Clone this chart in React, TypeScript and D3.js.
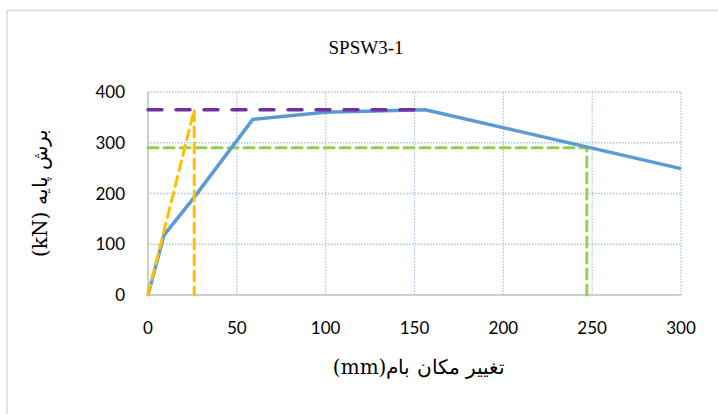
import React, { useEffect, useRef } from 'react';
import * as d3 from 'd3';

// pushover curve and the bilinear idealisation
const curveX = [0, 9, 25, 59, 100, 156, 300];
const curveY = [0, 118, 188, 346, 360, 365, 249];

const yieldLineX = [0, 26, 26];
const yieldLineY = [0, 365, 0];

const maxShearX = [0, 156];
const maxShearY = [365, 365];

const ultimateX = [0, 247, 247];
const ultimateY = [290, 290, 0];

const xTicks = [0, 50, 100, 150, 200, 250, 300];
const yTicks = [0, 100, 200, 300, 400];

const W = 718;
const H = 414;

export default function App() {
  const svgRef = useRef<SVGSVGElement>(null);

  useEffect(() => {
    const svg = d3.select(svgRef.current);
    svg.selectAll('*').remove();

    const x = d3.scaleLinear().domain([0, 300]).range([148, 681]);
    const y = d3.scaleLinear().domain([0, 400]).range([295, 92]);

    svg.append('rect')
      .attr('x', 0).attr('y', 0).attr('width', W).attr('height', H)
      .attr('fill', '#fff');
    // chart frame (cut off on right and bottom)
    svg.append('rect')
      .attr('x', 7).attr('y', 10.5).attr('width', W + 20).attr('height', H + 20)
      .attr('fill', 'none').attr('stroke', '#d9d9d9').attr('stroke-width', 1.5);

    const grid = svg.append('g');
    yTicks.forEach(t => {
      if (t === 0) return;
      grid.append('line')
        .attr('x1', x(0)).attr('x2', x(300)).attr('y1', y(t)).attr('y2', y(t))
        .attr('stroke', '#a9c8ea').attr('stroke-width', 1.3).attr('stroke-dasharray', '1.5 1.5');
    });
    xTicks.forEach(t => {
      if (t === 0) return;
      grid.append('line')
        .attr('x1', x(t)).attr('x2', x(t)).attr('y1', y(0)).attr('y2', y(400))
        .attr('stroke', '#a9c8ea').attr('stroke-width', 1.3).attr('stroke-dasharray', '1.5 1.5');
    });

    // axes lines
    svg.append('line')
      .attr('x1', x(0)).attr('x2', x(0)).attr('y1', y(0)).attr('y2', y(400))
      .attr('stroke', '#bfbfbf').attr('stroke-width', 1.5);
    svg.append('line')
      .attr('x1', x(0)).attr('x2', x(300)).attr('y1', y(0)).attr('y2', y(0))
      .attr('stroke', '#bfbfbf').attr('stroke-width', 1.5);

    const line = d3.line<[number, number]>().x(d => x(d[0])).y(d => y(d[1]));
    const pts = (xs: number[], ys: number[]) => xs.map((v, i) => [v, ys[i]] as [number, number]);

    svg.append('path')
      .attr('d', line(pts(ultimateX, ultimateY)))
      .attr('fill', 'none').attr('stroke', '#92d050').attr('stroke-width', 3)
      .attr('stroke-dasharray', '10 6').attr('stroke-linecap', 'round');

    svg.append('path')
      .attr('d', line(pts(curveX, curveY)))
      .attr('fill', 'none').attr('stroke', '#5b9bd5').attr('stroke-width', 3.5)
      .attr('stroke-linejoin', 'round');

    svg.append('path')
      .attr('d', line(pts(yieldLineX, yieldLineY)))
      .attr('fill', 'none').attr('stroke', '#ffc000').attr('stroke-width', 3)
      .attr('stroke-dasharray', '10 6').attr('stroke-linecap', 'round');

    svg.append('path')
      .attr('d', line(pts(maxShearX, maxShearY)))
      .attr('fill', 'none').attr('stroke', '#7030a0').attr('stroke-width', 3.5)
      .attr('stroke-dasharray', '14 14').attr('stroke-linecap', 'round');

    const tickFont = 'Lato, "Open Sans", sans-serif';
    svg.append('g').selectAll('text').data(xTicks).enter().append('text')
      .attr('x', d => x(d)).attr('y', 334)
      .attr('text-anchor', 'middle')
      .attr('font-family', tickFont).attr('font-size', 17).attr('fill', '#000')
      .text(d => d);
    svg.append('g').selectAll('text').data(yTicks).enter().append('text')
      .attr('x', 125).attr('y', d => y(d) + 6)
      .attr('text-anchor', 'end')
      .attr('font-family', tickFont).attr('font-size', 17).attr('fill', '#000')
      .text(d => d);

    const serif = '"DejaVu Serif", "Liberation Serif", serif';
    svg.append('text')
      .attr('x', 366).attr('y', 54)
      .attr('text-anchor', 'middle')
      .attr('font-family', '"Liberation Serif", Tinos, Times, serif')
      .attr('font-size', 19).attr('fill', '#000')
      .text('SPSW3-1');

    svg.append('text')
      .attr('x', 419).attr('y', 374)
      .attr('text-anchor', 'middle')
      .attr('direction', 'rtl')
      .attr('font-family', serif)
      .attr('font-size', 20).attr('fill', '#000')
      .text('تغییر مکان بام(mm)');

    svg.append('text')
      .attr('transform', 'translate(47,193) rotate(-90)')
      .attr('text-anchor', 'middle')
      .attr('direction', 'rtl')
      .attr('font-family', serif)
      .attr('font-size', 20).attr('fill', '#000')
      .text('برش پایه (kN)');
  }, []);

  return (
    <svg
      ref={svgRef}
      width={W}
      height={H}
      viewBox={`0 0 ${W} ${H}`}
      style={{ position: 'fixed', top: 0, left: 0, display: 'block' }}
    />
  );
}
